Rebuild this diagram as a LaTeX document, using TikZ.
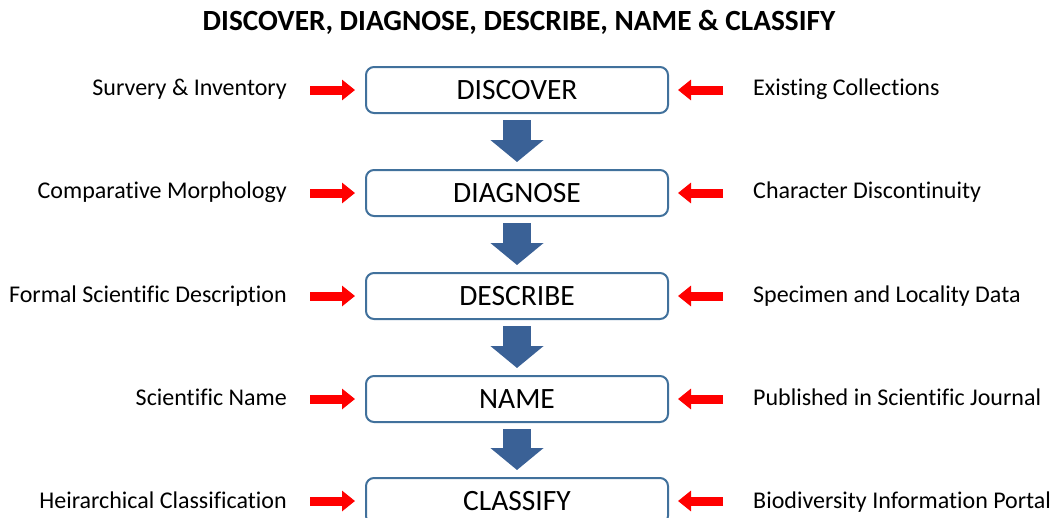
\documentclass[tikz,border=0pt]{standalone}
\usepackage{fontspec}
\setmainfont[Ligatures=NoCommon]{Carlito}
\usetikzlibrary{arrows.meta,calc}
\definecolor{boxblue}{HTML}{41719C}
\definecolor{arrowblue}{HTML}{3A6196}
\tikzset{
  stagebox/.style={draw=boxblue, line width=2pt, rounded corners=8pt, minimum width=302pt, minimum height=46pt, inner sep=0pt, font=\fontsize{29.5}{32}\selectfont, fill=white},
  leftlab/.style={anchor=east, inner sep=0pt, font=\fontsize{24}{28}\selectfont, text height=16pt, text depth=5pt},
  rightlab/.style={anchor=west, inner sep=0pt, font=\fontsize{24}{28}\selectfont, text height=16pt, text depth=5pt},
  flow/.style={draw=arrowblue, line width=28pt, -{Triangle[width=52pt,length=22pt]}, arrowblue, shorten <=6pt, shorten >=7pt},
  feed/.style={draw=red, line width=9pt, -{Triangle[width=20pt,length=13pt]}, red}
}
\begin{document}
\begin{tikzpicture}[x=1pt,y=-1pt]
\useasboundingbox (0,0) rectangle (1057,517);
\node[font=\bfseries\fontsize{29.3}{32}\selectfont] (title) at (519,22) {DISCOVER, DIAGNOSE, DESCRIBE, NAME \& CLASSIFY};
\node[stagebox] (b1) at (517,90) {DISCOVER};
\node[stagebox] (b2) at (517,193) {DIAGNOSE};
\node[stagebox] (b3) at (517,296) {DESCRIBE};
\node[stagebox] (b4) at (517,399) {NAME};
\node[stagebox] (b5) at (517,501) {CLASSIFY};
\foreach \a/\b in {b1/b2,b2/b3,b3/b4,b4/b5}{\draw[flow] (\a) -- (\b);}
\node[leftlab] (l1) at (287,90) {Survery \& Inventory};
\node[leftlab] (l2) at (287,193) {Comparative Morphology};
\node[leftlab] (l3) at (287,297) {Formal Scientific Description};
\node[leftlab] (l4) at (287,400) {Scientific Name};
\node[leftlab] (l5) at (287,503) {Heirarchical Classification};
\node[rightlab] (r1) at (753,90) {Existing Collections};
\node[rightlab] (r2) at (753,193) {Character Discontinuity};
\node[rightlab] (r3) at (753,297) {Specimen and Locality Data};
\node[rightlab] (r4) at (753,400) {Published in Scientific Journal};
\node[rightlab] (r5) at (753,503) {Biodiversity Information Portal};
\foreach \i in {1,...,5}{
  \coordinate (ls\i) at ($(b\i.west)+(-55,0)$);
  \coordinate (rs\i) at ($(b\i.east)+(54,0)$);
  \draw[feed, shorten >=10pt] (ls\i) -- (b\i.west);
  \draw[feed, shorten >=9pt] (rs\i) -- (b\i.east);
}
\end{tikzpicture}
\end{document}
